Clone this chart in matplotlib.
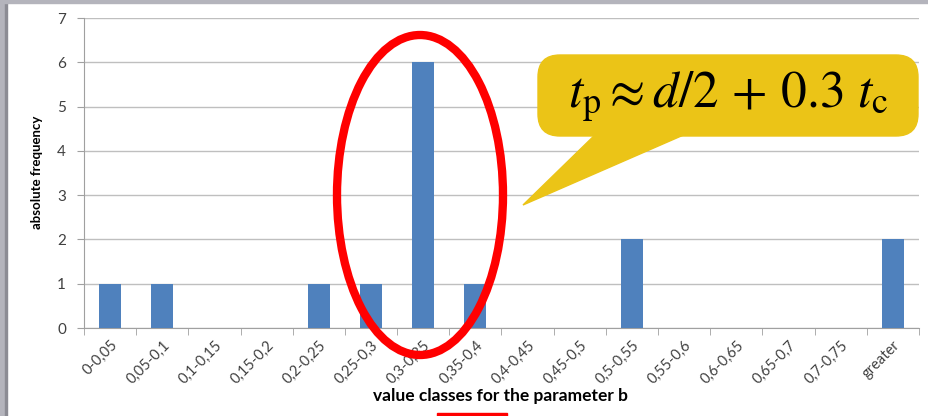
import matplotlib.pyplot as plt
from matplotlib.patches import Ellipse, FancyBboxPatch, Polygon, Rectangle
from matplotlib.transforms import IdentityTransform

# value classes and counts
classes = ['0-0,05', '0,05-0,1', '0,1-0,15', '0,15-0,2', '0,2-0,25', '0,25-0,3',
           '0,3-0,35', '0,35-0,4', '0,4-0,45', '0,45-0,5', '0,5-0,55', '0,55-0,6',
           '0,6-0,65', '0,65-0,7', '0,7-0,75', 'greater']
counts = [1, 1, 0, 0, 1, 1, 6, 1, 0, 0, 2, 0, 0, 0, 0, 2]
y_ticks = [0, 1, 2, 3, 4, 5, 6, 7]

W, H = 929, 416
plt.rcParams['font.family'] = ['Lato', 'DejaVu Sans']

fig = plt.figure(figsize=(W / 100, H / 100), dpi=100)
ax = fig.add_axes([84 / W, 1 - 328 / H, (919 - 84) / W, (328 - 18) / H])

x = list(range(len(classes)))
ax.bar(x, counts, width=0.42, color='#4F81BD', zorder=3)
ax.set_xlim(-0.5, len(classes) - 0.5)
ax.set_ylim(0, 7)
ax.set_yticks(y_ticks)
ax.yaxis.grid(True, color='#BFBFBF', linewidth=1)
ax.set_axisbelow(True)

ax.set_xticks(x)
ax.set_xticklabels(classes, rotation=45, ha='right', rotation_mode='anchor', fontsize=10.5)
ax.set_xticks([i - 0.5 for i in range(len(classes) + 1)], minor=True)
ax.tick_params(axis='x', which='major', length=0, pad=7, labelcolor='#404040')
ax.tick_params(axis='x', which='minor', length=5, color='#A0A0A0', direction='out')
ax.tick_params(axis='y', length=5, color='#A0A0A0', labelsize=11, pad=8, labelcolor='#404040')

for s in ['top', 'right']:
    ax.spines[s].set_visible(False)
for s in ['left', 'bottom']:
    ax.spines[s].set_color('#A0A0A0')

ax.set_xlabel('value classes for the parameter b', fontsize=12.5, fontweight='bold')
ax.xaxis.set_label_coords((500 - 84) / (919 - 84), -(388 - 328) / (328 - 18))
ax.set_ylabel('absolute frequency', fontsize=9.5, fontweight='bold')
ax.yaxis.set_label_coords(-(84 - 43) / (919 - 84), (328 - 172) / (328 - 18))

px = IdentityTransform()  # display pixels, origin bottom-left

# gray frame on the left and top
fig.patches.append(Rectangle((0, 0), 5, H, transform=px, color='#B4B4BC', zorder=0))
fig.patches.append(Rectangle((5, 0), 1.5, H, transform=px, color='#8C8C94', zorder=0))
fig.patches.append(Rectangle((0, H - 3), W, 3, transform=px, color='#B4B4BC', zorder=0))

# red ellipse
fig.patches.append(Ellipse((420, H - 195), 166, 320, transform=px,
                           fill=False, edgecolor='#FF0000', linewidth=6, zorder=5))

# red bar at the bottom
fig.patches.append(Rectangle((437, 0), 70, 3, transform=px, color='#FF0000', zorder=5))

# speech bubble
yellow = '#EBC417'
fig.patches.append(Polygon([(600, H - 130), (695, H - 130), (523, H - 205)],
                           closed=True, transform=px, color=yellow, zorder=6))
fig.patches.append(FancyBboxPatch((538, H - 136), 380, 81, transform=px,
                                  boxstyle='round,pad=0,rounding_size=22',
                                  color=yellow, zorder=6))
fig.text(728 / W, 1 - 97 / H, r'$t_\mathrm{p} \approx d/2\,+\,0.3\ t_\mathrm{c}$',
         fontsize=37, ha='center', va='center', math_fontfamily='stix', zorder=7)

fig.savefig('out.png', dpi=100)
